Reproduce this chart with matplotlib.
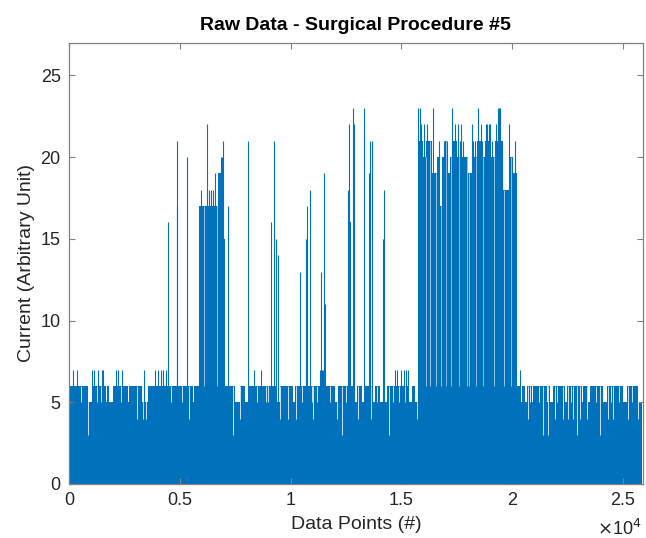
import matplotlib
matplotlib.use("Agg")
import matplotlib.pyplot as plt
from matplotlib.ticker import FixedLocator, FixedFormatter

plt.rcParams['font.family'] = ['Liberation Sans', 'DejaVu Sans']

# ---------------- data (positions in thousands of samples) ----------------
data_end_k = 25.86
base_level = 5

band6_start = [0.01, 1.04, 1.70, 1.97, 2.72, 3.55, 5.65, 7.72, 8.08, 9.52, 10.20, 12.14,
               12.98, 13.33, 13.81, 14.34, 15.47, 20.20, 20.43, 20.66, 20.95, 21.63, 21.86,
               22.46, 23.21, 23.51, 24.27, 25.17]
band6_end = [0.84, 1.67, 1.82, 2.65, 3.29, 5.58, 7.49, 7.94, 9.37, 10.11, 12.00, 12.91,
             13.21, 13.73, 14.04, 15.31, 15.62, 20.35, 20.58, 20.88, 21.56, 21.71, 22.38,
             23.14, 23.42, 24.11, 25.02, 25.69]

block_start = [5.88, 6.74, 6.95, 12.60,
               15.76, 15.97, 16.11, 16.37, 16.59, 16.74, 16.82, 16.97, 17.05, 17.19, 17.35,
               17.50, 18.02, 18.17, 18.40, 18.63, 18.78, 19.00, 19.23, 19.60, 19.79, 19.90,
               20.05]
block_end = [6.74, 6.95, 7.05, 12.72,
             15.97, 16.11, 16.37, 16.59, 16.74, 16.82, 16.97, 17.05, 17.19, 17.35, 17.50,
             18.02, 18.17, 18.40, 18.63, 18.78, 19.00, 19.23, 19.60, 19.79, 19.90, 20.05,
             20.20]
block_level = [17, 19, 15, 16,
               21, 20, 21, 19, 20, 17, 20, 21, 19, 20, 21,
               20, 19, 20, 21, 20, 21, 20, 21, 18, 18, 20,
               19]

spike_pos = [0.20, 0.36, 1.04, 1.11, 1.31, 1.47, 1.52, 2.10, 2.21, 2.39, 3.40, 3.88, 4.02,
             4.15, 4.22, 4.38, 8.35, 8.65, 11.33, 11.40, 11.46, 11.53, 14.69, 14.78, 14.98,
             15.10, 15.21, 15.28, 20.35,
             4.45, 4.86, 4.89, 5.34, 5.94, 6.24, 6.32, 6.41, 6.50, 6.59, 6.84, 6.89, 6.96,
             7.19, 8.09, 9.12, 9.24, 9.33, 9.42, 10.43, 10.68, 10.74, 10.89, 11.36, 11.49,
             11.55, 12.58, 12.64, 12.68, 12.82, 12.88, 13.33, 13.54, 13.60, 13.69, 14.16,
             14.22,
             15.77, 15.84, 15.87, 16.04, 16.16, 16.22, 16.42, 16.68, 16.86,
             16.92, 16.99, 17.04, 17.30, 17.35, 17.42, 17.56, 17.65, 17.70, 17.78,
             18.19, 18.23, 18.32, 18.39, 18.44, 18.48, 18.59, 18.66, 18.82, 18.88,
             18.94, 18.98, 19.09, 19.29, 19.36, 19.40, 19.45, 19.53, 19.86, 19.97,
             20.14]
spike_val = [7, 7, 7, 7, 7, 7, 7, 7, 7, 7, 7, 7, 7,
             7, 7, 7, 7, 7, 7, 7, 7, 7, 7, 7, 7,
             7, 7, 7, 7,
             16, 21, 17, 20, 18, 22, 18, 18, 18, 19, 20, 20, 21,
             17, 21, 16, 21, 15, 14, 13, 15, 17, 18, 13, 19,
             11, 18, 22, 16, 23, 22, 23, 19, 21, 21, 15,
             18,
             23, 23, 22, 22, 22, 21, 23, 21, 20,
             21, 21, 21, 23, 21, 22, 22, 21, 22, 21,
             22, 21, 21, 21, 23, 21, 22, 21, 22, 22,
             22, 22, 21, 22, 23, 23, 23, 21, 22, 20,
             21]

dip_pos = [0.84, 3.06, 3.33, 3.48, 5.43, 7.42, 7.72, 9.52, 9.90, 10.24, 11.03, 12.08, 12.31,
           13.06, 13.63, 14.46, 15.69, 20.73, 21.41, 21.63, 21.93, 22.31, 22.53, 22.76,
           22.91, 23.06, 23.36, 23.96, 24.34, 24.56, 25.24, 25.69,
           0.55, 1.25, 1.45, 2.35, 3.90, 4.60, 5.10, 8.50, 8.90, 9.00, 10.50, 10.95, 11.20,
           11.80, 12.50, 13.90, 14.60, 14.90, 15.15, 20.80, 21.20, 22.00, 22.65, 23.80,
           24.45, 24.80, 25.40]
dip_val = [3, 4, 4, 4, 4, 3, 4, 4, 4, 4, 4, 4, 3,
           4, 4, 3, 4, 4, 3, 3, 4, 4, 4, 4,
           3, 4, 4, 3, 4, 4, 4, 4,
           5, 5, 5, 5, 5, 5, 5, 5, 5, 5, 5, 5, 5,
           5, 5, 5, 5, 5, 5, 5, 5, 5, 5, 5,
           5, 5, 5]

gap_pos = [6.09, 6.67, 15.90, 16.10, 16.30, 16.55, 16.77, 17.00, 17.23, 17.60, 17.95, 18.05,
           18.35, 18.70, 19.18, 19.40, 19.63, 19.95]
gap_floor = [6, 6, 6, 6, 6, 6, 6, 6, 6, 6, 6, 6, 6, 6, 6, 6, 6, 6]
gap_top = [17, 19, 21, 20, 21, 19, 17, 21, 20, 20, 20, 19, 20, 20, 20, 21, 18, 20]

x_ticks = [0, 5000, 10000, 15000, 20000, 25000]
x_tick_labels = ['0', '0.5', '1', '1.5', '2', '2.5']
y_ticks = [0, 5, 10, 15, 20, 25]

K = 1000.0
blue = '#0072BD'

fig = plt.figure(figsize=(6.46, 5.38), dpi=100)
ax = fig.add_axes([69 / 646, 54 / 538, (642.7 - 69) / 646, (484 - 42.7) / 538])

# base filled envelope
ax.fill_between([0, data_end_k * K], 0, base_level, color=blue, lw=0)
for s, e in zip(band6_start, band6_end):
    ax.fill_between([s * K, e * K], 0, 6, color=blue, lw=0)
for s, e, lv in zip(block_start, block_end, block_level):
    ax.fill_between([s * K, e * K], 0, lv, color=blue, lw=0)

# columns where the local maximum is lower
ax.vlines([p * K for p in dip_pos], dip_val, 6, color='white', lw=0.7, alpha=0.8)
ax.vlines([p * K for p in gap_pos], gap_floor, gap_top, color='white', lw=0.7, alpha=0.6)

# spikes
ax.vlines([p * K for p in spike_pos], 0, spike_val, color=blue, lw=0.8)

ax.set_xlim(0, 25890)
ax.set_ylim(0, 27)
ax.xaxis.set_major_locator(FixedLocator(x_ticks))
ax.xaxis.set_major_formatter(FixedFormatter(x_tick_labels))
ax.set_yticks(y_ticks)

spine_c = '#808080'
for sp in ax.spines.values():
    sp.set_color(spine_c)
    sp.set_linewidth(0.9)
ax.tick_params(direction='in', length=4, width=0.8, color=spine_c, labelcolor='#262626',
               labelsize=13, top=True, right=True, pad=6)

ax.set_title('Raw Data - Surgical Procedure #5', fontsize=14, fontweight='bold', pad=9)
ax.set_xlabel('Data Points (#)', fontsize=14, color='#262626', labelpad=5)
ax.set_ylabel('Current (Arbitrary Unit)', fontsize=14, color='#262626', labelpad=4)

fig.text(642 / 646, 3 / 538, r'$\times$10$^4$', ha='right', va='baseline',
         fontsize=13, color='#262626')

fig.savefig('out.png', dpi=100)
